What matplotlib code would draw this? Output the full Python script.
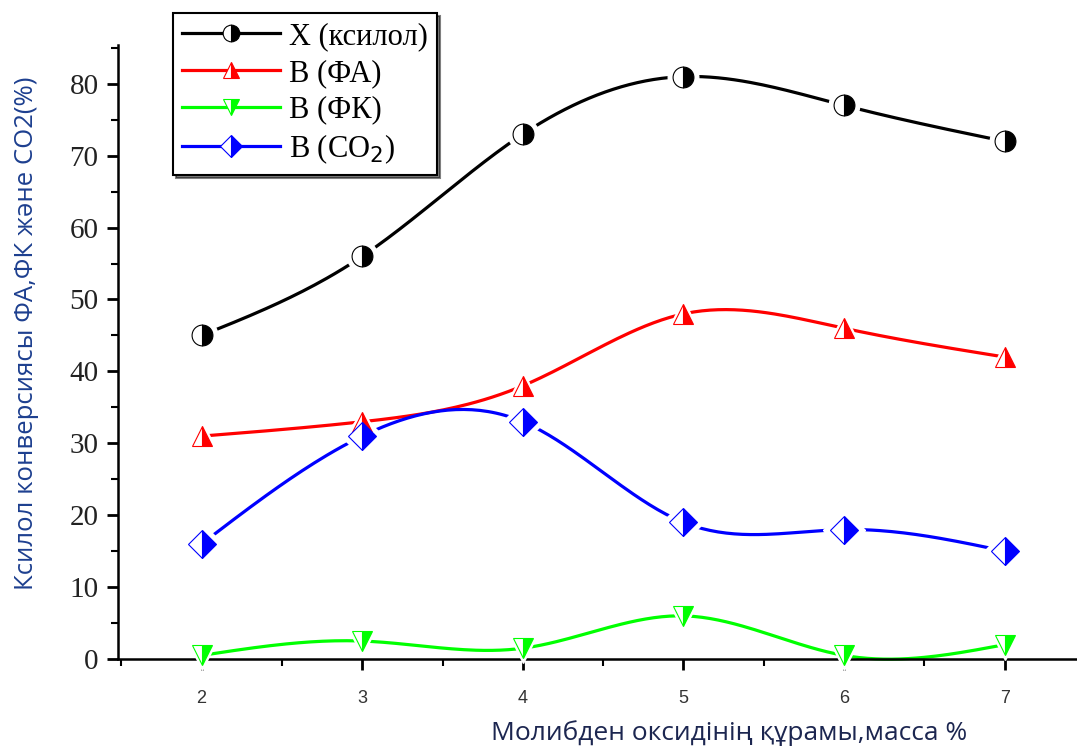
import numpy as np
import matplotlib
matplotlib.use("Agg")
from matplotlib import pyplot as plt
from matplotlib.ticker import MultipleLocator

# data
mo_content = [2, 3, 4, 5, 6, 7]
x_xylene = [45, 56, 73, 81, 77, 72]
s_pa = [31, 33, 38, 48, 46, 42]
s_fk = [0.5, 2.5, 1.5, 6, 0.5, 2]
s_co2 = [16, 31, 33, 19, 18, 15]

labels = ["X (ксилол)", "B (ФА)", "B (ФК)", "B (CO$_2$)"]
colors = ["black", "red", "#00ff00", "blue"]
markers = ["o", "^", "v", "D"]
msizes = [15, 15, 15, 14]


def natural_spline(x, y, n=200):
    # natural cubic spline, used only to draw the smooth line like Origin does
    x = np.asarray(x, float)
    y = np.asarray(y, float)
    k = len(x)
    h = np.diff(x)
    A = np.zeros((k, k))
    b = np.zeros(k)
    A[0, 0] = A[-1, -1] = 1
    for i in range(1, k - 1):
        A[i, i - 1] = h[i - 1]
        A[i, i] = 2 * (h[i - 1] + h[i])
        A[i, i + 1] = h[i]
        b[i] = 6 * ((y[i + 1] - y[i]) / h[i] - (y[i] - y[i - 1]) / h[i - 1])
    m = np.linalg.solve(A, b)
    xs = np.linspace(x[0], x[-1], n)
    idx = np.clip(np.searchsorted(x, xs) - 1, 0, k - 2)
    x0, x1 = x[idx], x[idx + 1]
    hh = x1 - x0
    t0, t1 = x1 - xs, xs - x0
    ys = (m[idx] * t0 ** 3 + m[idx + 1] * t1 ** 3) / (6 * hh) \
        + (y[idx] / hh - m[idx] * hh / 6) * t0 + (y[idx + 1] / hh - m[idx + 1] * hh / 6) * t1
    return xs, ys


fig = plt.figure(figsize=(10.77, 7.47), dpi=100)
ax = fig.add_axes([0.1096, 0.1178, 0.8904, 0.822])

series = [x_xylene, s_pa, s_fk, s_co2]
handles = []
for vals, c, mk, ms, lab in zip(series, colors, markers, msizes, labels):
    xs, ys = natural_spline(mo_content, vals)
    ax.plot(xs, ys, color=c, lw=2.3, zorder=2, clip_on=False)
    # white halo to leave a gap between line and marker
    ax.plot(mo_content, vals, ls="none", marker=mk, ms=ms + 7, mfc="white",
            mec="white", zorder=3, clip_on=False)
    ax.plot(mo_content, vals, ls="none", marker=mk, ms=ms, mfc=c,
            mfcalt="white", fillstyle="right", mec=c, mew=0.8, zorder=4, clip_on=False)
    h, = ax.plot([], [], color=c, lw=2.3, marker=mk, ms=ms * 0.8, mfc=c,
                 mfcalt="white", fillstyle="right", mec=c, mew=0.8)
    handles.append(h)

ax.set_xlim(1.48, 7.45)
ax.set_ylim(0, 85.4)
ax.xaxis.set_major_locator(MultipleLocator(1))
ax.xaxis.set_minor_locator(MultipleLocator(0.5))
ax.yaxis.set_major_locator(MultipleLocator(10))
ax.yaxis.set_minor_locator(MultipleLocator(5))

for s in ["top", "right"]:
    ax.spines[s].set_visible(False)
ax.spines["left"].set_linewidth(1.8)
ax.spines["bottom"].set_linewidth(1.8)

ax.tick_params(axis="both", which="major", direction="out", length=8, width=2)
ax.tick_params(axis="both", which="minor", direction="out", length=5, width=1.5)
ax.tick_params(axis="x", labelsize=13, pad=14)
ax.tick_params(axis="y", labelsize=21, pad=6)
for t in ax.get_yticklabels():
    t.set_family("Liberation Serif")
    t.set_color("#222222")
for t in ax.get_xticklabels():
    t.set_family("Liberation Sans")
    t.set_color("#333333")

fig.text(729 / 1077, 1 - 733 / 747, "Молибден оксидінің құрамы,масса %",
         ha="center", va="center", fontsize=19, color="#1c2650",
         family=["Open Sans", "DejaVu Sans"])
fig.text(27 / 1077, 1 - 333 / 747, "Ксилол конверсиясы ФА,ФК және СО2(%)",
         ha="center", va="center", rotation=90, fontsize=18.5, color="#1d3f8f",
         family=["Open Sans", "DejaVu Sans"])

leg = ax.legend(handles, labels, loc="upper left",
                bbox_to_anchor=(173 / 1077, 1 - 13 / 747),
                bbox_transform=fig.transFigure,
                prop={"family": "Liberation Serif", "size": 22},
                frameon=True, fancybox=False, shadow={"color": "black"},
                edgecolor="black", framealpha=1, borderpad=0.3,
                labelspacing=0.25, handlelength=3.2, handletextpad=0.3,
                borderaxespad=0)
leg.get_frame().set_linewidth(1.5)

fig.savefig("out.png", dpi=100)
